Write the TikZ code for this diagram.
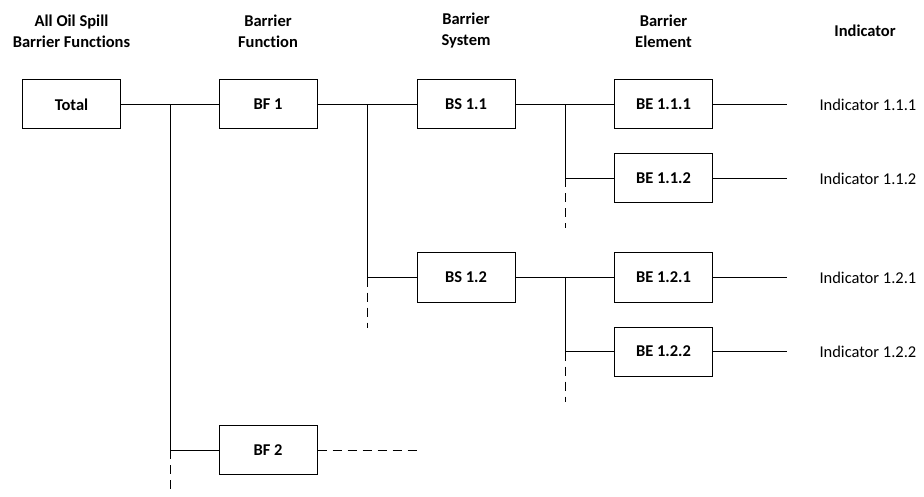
\documentclass[tikz,border=0pt]{standalone}
\usepackage{fontspec}
\setmainfont{Carlito}[Ligatures=NoCommon]
\begin{document}
\begin{tikzpicture}
[x=1pt, y=-1pt, line width=1pt,
 box/.style={draw, minimum width=98pt, minimum height=49pt, font=\fontsize{16.5}{20}\selectfont\bfseries},
 hdr/.style={align=center, font=\fontsize{16.5}{21}\selectfont\bfseries},
 ind/.style={anchor=west, inner sep=0pt, font=\fontsize{16.5}{20}\selectfont},
 more/.style={dash pattern=on 9pt off 6pt}]
\useasboundingbox (0,0) rectangle (924,497);
% column headers
\node [hdr] (hAll) at (71.5,31) {All Oil Spill\\Barrier Functions};
\node [hdr] (hBF) at (268,31) {Barrier\\Function};
\node [hdr] (hBS) at (466,31) {Barrier\\System};
\node [hdr] (hBE) at (663.5,31) {Barrier\\Element};
\node [hdr] (hInd) at (865,31) {Indicator};
% boxes
\node [box] (total) at (71.5,104.5) {Total};
\node [box] (bf1) at (268,104.5) {BF 1};
\node [box] (bf2) at (268,450) {BF 2};
\node [box] (bs11) at (466,104.5) {BS 1.1};
\node [box] (bs12) at (466,277.5) {BS 1.2};
\node [box] (be111) at (663.5,104.5) {BE 1.1.1};
\node [box] (be112) at (663.5,178.5) {BE 1.1.2};
\node [box] (be121) at (663.5,277.5) {BE 1.2.1};
\node [box] (be122) at (663.5,351.5) {BE 1.2.2};
% indicators
\node [ind] (i111) at (819,104.5) {Indicator 1.1.1};
\node [ind] (i112) at (819,178.5) {Indicator 1.1.2};
\node [ind] (i121) at (819,277.5) {Indicator 1.2.1};
\node [ind] (i122) at (819,351.5) {Indicator 1.2.2};
% branch points
\coordinate (j1) at (170,104.5);
\coordinate (j1b) at (170,450);
\coordinate (j2) at (367,104.5);
\coordinate (j2b) at (367,277.5);
\coordinate (j3) at (565,104.5);
\coordinate (j3b) at (565,178.5);
\coordinate (j4) at (565,277.5);
\coordinate (j4b) at (565,351.5);
% connectors
\draw (total.east) -- (bf1.west);
\draw (j1) -- (j1b) -- (bf2.west);
\draw [more] (j1b) -- ++(0,42);
\draw [more] (bf2.east) -- ++(99,0);
\draw (bf1.east) -- (bs11.west);
\draw (j2) -- (j2b) -- (bs12.west);
\draw [more] (j2b) -- ++(0,50);
\draw (bs11.east) -- (be111.west);
\draw (j3) -- (j3b) -- (be112.west);
\draw [more] (j3b) -- ++(0,50);
\draw (bs12.east) -- (be121.west);
\draw (j4) -- (j4b) -- (be122.west);
\draw [more] (j4b) -- ++(0,50);
\foreach \e/\i in {be111/i111, be112/i112, be121/i121, be122/i122}
  \draw (\e.east) -- ([xshift=-32pt]\i.west);
\end{tikzpicture}
\end{document}
